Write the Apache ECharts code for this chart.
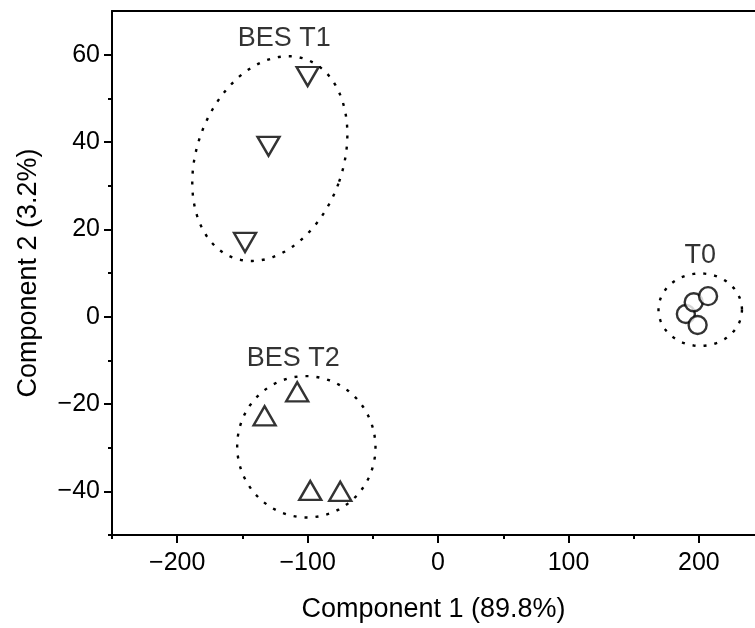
<!DOCTYPE html>
<html>
<head>
<meta charset="utf-8">
<script src="https://cdn.jsdelivr.net/npm/echarts@6/dist/echarts.min.js"></script>
<style>
html,body{margin:0;padding:0;background:#fff;}
#chart{width:755px;height:628px;}
</style>
</head>
<body>
<div id="chart"></div>
<script>
// ---- data ----
var t1X = [-100, -130, -148];
var t1Y = [55, 39, 17];
var t2X = [-133, -108, -98, -75];
var t2Y = [-22.7, -17.2, -39.8, -40];
var t0X = [190, 199, 196, 207];
var t0Y = [0.6, -1.9, 3.3, 4.7];
var groupNames = ['BES T1', 'BES T2', 'T0'];
var groupLabelX = [-118, -111, 201];
var groupLabelY = [63.6, -9.5, 14.1];
// ellipses: center x, center y, semi-axis x (data units), semi-axis y (data units), tilt deg
var ellCX = [-129, -101, 201];
var ellCY = [36.2, -29.8, 1.6];
var ellRX = [56, 53, 32];
var ellRY = [24.2, 16.2, 8.3];
var ellRot = [20, -10, 0];
var xMajor = [-200, -100, 0, 100, 200];
var xMinor = [-250, -150, -50, 50, 150];
var yMajor = [-40, -20, 0, 20, 40, 60];
var yMinor = [-50, -30, -10, 10, 30, 50];
var xMin = -250, xMax = 243, yMin = -50, yMax = 70;

function zip(a, b) { return a.map(function (v, i) { return [v, b[i]]; }); }

var FONT = 'Arial, "Liberation Sans", sans-serif';
var chart = echarts.init(document.getElementById('chart'), null, {renderer: 'canvas'});

var markerStyle = {color: '#fff', borderColor: '#000', borderWidth: 2.4};
function minus(v) { return String(v).replace('-', '\u2212'); }

var option = {
  backgroundColor: '#fff',
  animation: false,
  textStyle: {fontFamily: FONT, color: '#000'},
  grid: {left: 112, top: 11, right: 0, height: 526, show: false},
  xAxis: [
    {
      type: 'value', min: xMin, max: xMax, position: 'bottom',
      name: 'Component 1 (89.8%)', nameLocation: 'middle', nameGap: 61,
      nameTextStyle: {fontSize: 27, color: '#000', fontFamily: FONT},
      axisLine: {show: true, onZero: false, lineStyle: {color: '#000', width: 2}},
      axisTick: {show: true, length: 8, customValues: xMajor, lineStyle: {color: '#000', width: 2}},
      axisLabel: {customValues: xMajor, fontSize: 25, color: '#000', margin: 16, fontFamily: FONT, formatter: minus},
      splitLine: {show: false}
    },
    {
      type: 'value', min: xMin, max: xMax, position: 'bottom', gridIndex: 0,
      axisLine: {show: false, onZero: false},
      axisTick: {show: true, length: 4, customValues: xMinor, lineStyle: {color: '#000', width: 2}},
      axisLabel: {show: false},
      splitLine: {show: false}
    },
    {
      type: 'value', min: xMin, max: xMax, position: 'top', gridIndex: 0,
      axisLine: {show: true, onZero: false, lineStyle: {color: '#000', width: 2}},
      axisTick: {show: false},
      axisLabel: {show: false},
      splitLine: {show: false}
    }
  ],
  yAxis: [
    {
      type: 'value', min: yMin, max: yMax, position: 'left',
      name: 'Component 2 (3.2%)', nameLocation: 'middle', nameGap: 70,
      nameTextStyle: {fontSize: 27, color: '#000', fontFamily: FONT},
      axisLine: {show: true, onZero: false, lineStyle: {color: '#000', width: 2}},
      axisTick: {show: true, length: 8, customValues: yMajor, lineStyle: {color: '#000', width: 2}},
      axisLabel: {customValues: yMajor, fontSize: 25, color: '#000', margin: 12, fontFamily: FONT, formatter: minus},
      splitLine: {show: false}
    },
    {
      type: 'value', min: yMin, max: yMax, position: 'left', gridIndex: 0,
      axisLine: {show: false, onZero: false},
      axisTick: {show: true, length: 4, customValues: yMinor, lineStyle: {color: '#000', width: 2}},
      axisLabel: {show: false},
      splitLine: {show: false}
    }
  ],
  series: [
    {
      type: 'custom', name: 'ellipses', silent: true, clip: false, z: 1,
      data: ellCX.map(function (v, i) { return [v, ellCY[i], ellRX[i], ellRY[i], ellRot[i]]; }),
      encode: {x: 0, y: 1},
      renderItem: function (params, api) {
        var c = api.coord([api.value(0), api.value(1)]);
        var s = api.size([api.value(2), api.value(3)]);
        var th = api.value(4) * Math.PI / 180;
        var pts = [];
        var n = 120;
        for (var k = 0; k < n; k++) {
          var t = 2 * Math.PI * k / n;
          var ex = s[0] * Math.cos(t), ey = s[1] * Math.sin(t);
          pts.push([c[0] + ex * Math.cos(th) - ey * Math.sin(th), c[1] + ex * Math.sin(th) + ey * Math.cos(th)]);
        }
        return {
          type: 'polygon',
          shape: {points: pts},
          style: {fill: null, stroke: '#000', lineWidth: 2.4, lineDash: [3, 8]}
        };
      }
    },
    {
      type: 'scatter', name: 'BES T1', symbol: 'triangle', symbolRotate: 180, symbolSize: [22, 19],
      itemStyle: markerStyle, z: 3, data: zip(t1X, t1Y)
    },
    {
      type: 'scatter', name: 'BES T2', symbol: 'triangle', symbolSize: [22, 19],
      itemStyle: markerStyle, z: 3, data: zip(t2X, t2Y)
    },
    {
      type: 'scatter', name: 'T0', symbol: 'circle', symbolSize: 18,
      itemStyle: markerStyle, z: 3, data: zip(t0X, t0Y)
    },
    {
      type: 'scatter', name: 'labels', symbolSize: 0, silent: true, z: 4,
      data: groupNames.map(function (n, i) { return {name: n, value: [groupLabelX[i], groupLabelY[i]]}; }),
      label: {show: true, position: 'inside', formatter: '{b}', fontSize: 27, color: '#000', fontFamily: FONT}
    }
  ]
};
chart.setOption(option);
</script>
</body>
</html>
